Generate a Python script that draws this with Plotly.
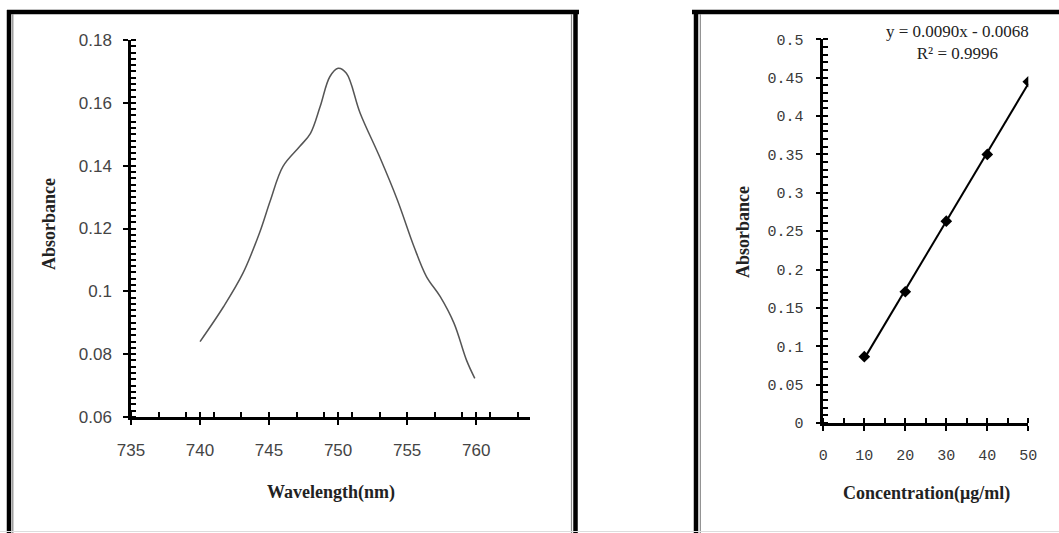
import numpy as np
import plotly.graph_objects as go

# ---------------- data ----------------
wavelength = [740.0, 741.7, 743.1, 744.3, 745.1, 746.0, 747.2, 748.0, 748.7, 749.4, 750.0,
              750.6, 751.6, 753.0, 754.3, 755.5, 756.4, 757.4, 758.4, 759.3, 759.9]
absorb_spec = [0.0840, 0.0951, 0.1057, 0.1185, 0.1290, 0.1397, 0.1460, 0.1503, 0.1588, 0.1683, 0.1710,
               0.1694, 0.1567, 0.1429, 0.1290, 0.1142, 0.1047, 0.0983, 0.0898, 0.0781, 0.0723]

concentration = [10, 20, 30, 40, 50]
absorb_cal = [0.0864, 0.1710, 0.2630, 0.3500, 0.4447]

left_yticks = [0.06, 0.08, 0.10, 0.12, 0.14, 0.16, 0.18]
left_yticktext = ["0.06", "0.08", "0.1", "0.12", "0.14", "0.16", "0.18"]
left_xticks = [735, 740, 745, 750, 755, 760]

right_yticks = [0, 0.05, 0.1, 0.15, 0.2, 0.25, 0.3, 0.35, 0.4, 0.45, 0.5]
right_yticktext = ["0", "0.05", "0.1", "0.15", "0.2", "0.25", "0.3", "0.35", "0.4", "0.45", "0.5"]
right_xticks = [0, 10, 20, 30, 40, 50]

equation_text = "y = 0.0090x - 0.0068<br>R² = 0.9996"

# ---------------- layout constants ----------------
W, H = 1059, 533


def px(x):
    return x / W


def py(y):
    return 1 - y / H


slope, intercept = np.polyfit(concentration, absorb_cal, 1)
trend_x = [concentration[0], concentration[-1]]
trend_y = [slope * v + intercept for v in trend_x]

fig = go.Figure()

fig.add_trace(go.Scatter(x=wavelength, y=absorb_spec, mode="lines",
                         line=dict(color="#555555", width=1.5, shape="spline", smoothing=1.0),
                         xaxis="x", yaxis="y", showlegend=False, hoverinfo="skip"))
fig.add_trace(go.Scatter(x=trend_x, y=trend_y, mode="lines",
                         line=dict(color="black", width=2),
                         xaxis="x2", yaxis="y2", showlegend=False, hoverinfo="skip"))
fig.add_trace(go.Scatter(x=concentration, y=absorb_cal, mode="markers",
                         marker=dict(symbol="diamond", size=9, color="black"),
                         xaxis="x2", yaxis="y2", showlegend=False))
# empty traces for overlay (inside tick) axes
fig.add_trace(go.Scatter(x=[], y=[], xaxis="x3", yaxis="y3", showlegend=False))
fig.add_trace(go.Scatter(x=[], y=[], xaxis="x4", yaxis="y4", showlegend=False))

tickfont_left = dict(family="Liberation Sans", size=17, color="#444444")
tickfont_right = dict(family="Liberation Mono", size=15, color="#3a3a3a")

L_dom_x = [px(131), px(530)]
L_dom_y = [py(417), py(40)]
R_dom_x = [px(823.3), px(1028.3)]
R_dom_y = [py(423), py(39.3)]
L_xr = [735, 763.9]
L_yr = [0.06, 0.18]
R_xr = [0, 50]
R_yr = [0, 0.5]

common = dict(showgrid=False, zeroline=False, showline=True, linecolor="black", linewidth=2.5,
              ticks="outside", ticklen=5, tickwidth=2, tickcolor="black", automargin=False)
overlay = dict(showgrid=False, zeroline=False, showline=False, ticks="inside", ticklen=5,
               tickwidth=2, tickcolor="black", showticklabels=False, automargin=False)

fig.update_layout(
    width=W, height=H, margin=dict(l=0, r=0, t=0, b=0, pad=0), autosize=False,
    paper_bgcolor="white", plot_bgcolor="rgba(0,0,0,0)",
    xaxis=dict(domain=L_dom_x, range=L_xr, anchor="y", tickvals=left_xticks,
               tickfont=tickfont_left, ticklabelstandoff=11,
               minor=dict(ticks="inside", tick0=735, dtick=2, ticklen=5, tickwidth=2, tickcolor="black"),
               **common),
    yaxis=dict(domain=L_dom_y, range=L_yr, anchor="x", tickvals=left_yticks, ticktext=left_yticktext,
               tickfont=tickfont_left, ticklabelstandoff=8,
               minor=dict(ticks="inside", tick0=0.06, dtick=0.002, ticklen=5, tickwidth=2, tickcolor="black"),
               **common),
    xaxis3=dict(domain=L_dom_x, range=L_xr, anchor="y", overlaying="x", tickvals=left_xticks, **overlay),
    yaxis3=dict(domain=L_dom_y, range=L_yr, anchor="x", overlaying="y", tickvals=left_yticks, **overlay),
    xaxis2=dict(domain=R_dom_x, range=R_xr, anchor="y2", tickvals=right_xticks,
                tickfont=tickfont_right, ticklabelstandoff=11,
                minor=dict(ticks="inside", tick0=0, dtick=5, ticklen=5, tickwidth=2, tickcolor="black"),
                **common),
    yaxis2=dict(domain=R_dom_y, range=R_yr, anchor="x2", tickvals=right_yticks, ticktext=right_yticktext,
                tickfont=tickfont_right, ticklabelstandoff=9,
                minor=dict(ticks="inside", tick0=0, dtick=0.01, ticklen=5, tickwidth=2, tickcolor="black"),
                **common),
    xaxis4=dict(domain=R_dom_x, range=R_xr, anchor="y2", overlaying="x2", tickvals=right_xticks, **overlay),
    yaxis4=dict(domain=R_dom_y, range=R_yr, anchor="x2", overlaying="y2", tickvals=right_yticks, **overlay),
)

title_font = dict(family="Liberation Serif", size=18, color="#222222")
ann = [
    dict(text="<b>Wavelength(nm)</b>", x=px(330.5), y=py(492), textangle=0),
    dict(text="<b>Absorbance</b>", x=px(49), y=py(224), textangle=-90),
    dict(text="<b>Concentration(μg/ml)</b>", x=px(926), y=py(493), textangle=0),
    dict(text="<b>Absorbance</b>", x=px(743), y=py(232), textangle=-90),
]
for a in ann:
    fig.add_annotation(xref="paper", yref="paper", showarrow=False, xanchor="center", yanchor="middle",
                       font=title_font, **a)
fig.add_annotation(xref="paper", yref="paper", x=px(957), y=py(42), xanchor="center", yanchor="middle",
                   showarrow=False, text=equation_text, align="center",
                   font=dict(family="Liberation Serif", size=17, color="#222222"))

# frames
shapes = []


def line(x0, y0, x1, y1, color, width):
    shapes.append(dict(type="line", xref="paper", yref="paper", x0=px(x0), y0=py(y0), x1=px(x1), y1=py(y1),
                       line=dict(color=color, width=width), layer="above"))


line(7, 12, 579, 12, "black", 4.5)
line(9, 10, 9, 533, "black", 4.5)
line(12.8, 14, 12.8, 533, "#888888", 1.2)
line(575.5, 10, 575.5, 533, "black", 4.5)
line(571.5, 14, 571.5, 533, "#888888", 1.2)
line(692, 12, 1059, 12, "black", 4.5)
line(696, 10, 696, 533, "black", 4.5)
line(700.3, 14, 700.3, 533, "#888888", 1.2)
line(0, 531.5, 1059, 531.5, "#dddddd", 1)
fig.update_layout(shapes=shapes)

fig.write_html("out.html", config={"displayModeBar": False},
               post_script="document.body.style.margin='0';document.body.style.padding='0';"
                           "document.documentElement.style.overflow='hidden';")
